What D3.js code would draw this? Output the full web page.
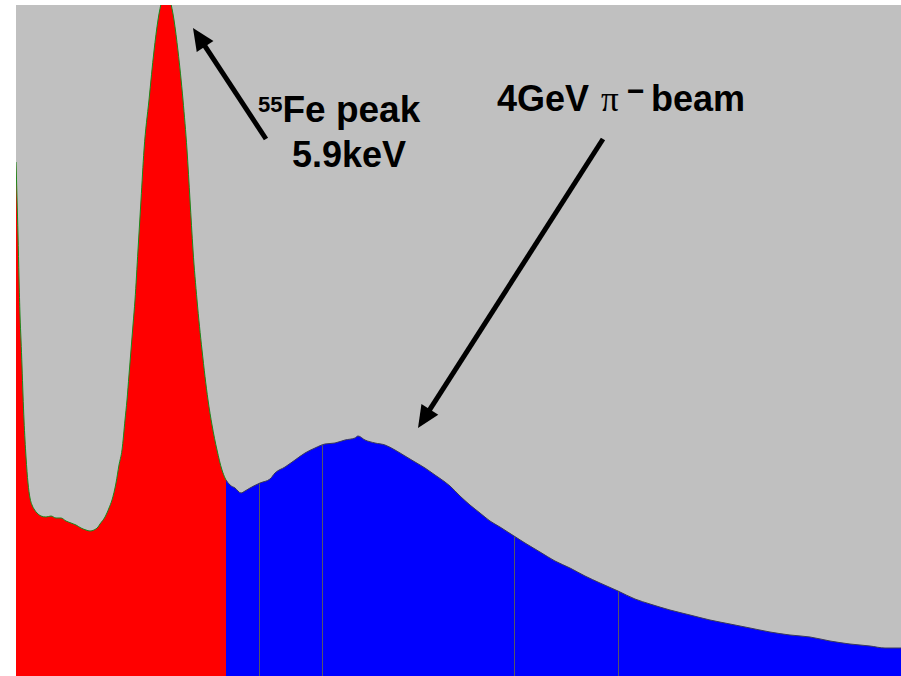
<!DOCTYPE html>
<html>
<head>
<style>
body { margin: 0; background: #fff; }
svg { display: block; }
</style>
</head>
<body>
<svg id="chart"></svg>
<script src="https://cdnjs.cloudflare.com/ajax/libs/d3/7.8.5/d3.min.js"></script>
<script>
// pulse height spectrum, channel vs counts
var channels = [0, 1, 2, 3, 4, 5, 6, 7, 8, 9, 10, 12, 14, 16, 18, 21, 25, 30, 35, 40, 45, 50, 55, 60, 65, 70, 74, 78, 82,
  84, 89, 93, 96, 100, 103, 106, 109, 111, 113, 115, 117, 119, 122, 125, 128, 133, 138, 142, 146, 150, 154,
  158, 162, 167, 171, 174, 177, 181, 186, 192, 196, 201, 206, 209, 210,
  214, 219, 225, 229, 234, 244, 254, 259, 269, 279, 289, 299, 309, 319, 329, 339, 342, 349, 359, 369, 379, 389, 399,
  409, 419, 429, 434, 444, 454, 464, 474, 484, 498, 509, 524, 539, 554, 569, 584, 602, 619, 634, 654, 674, 694, 714,
  734, 754, 774, 794, 814, 834, 854, 869, 885];
var counts = [5140, 4780, 4410, 3980, 3610, 3360, 3100, 2810, 2560, 2360, 2190, 1930, 1780, 1710, 1670, 1630, 1600, 1590, 1600, 1580, 1580, 1550, 1530, 1510, 1480, 1460, 1450, 1460, 1490,
  1520, 1590, 1680, 1760, 1930, 2110, 2260, 2560, 2760, 3010, 3260, 3510, 3760, 4260, 4760, 5260, 5760, 6250, 6560, 6760, 6850, 6760,
  6560, 6250, 5760, 5260, 4760, 4260, 3760, 3260, 2760, 2510, 2260, 2060, 1980, 1960,
  1910, 1880, 1830, 1850, 1880, 1930, 1970, 2030, 2090, 2160, 2230, 2280, 2320, 2330, 2360, 2380, 2400, 2360, 2330, 2310, 2260, 2200, 2140,
  2080, 2010, 1940, 1900, 1800, 1710, 1630, 1550, 1490, 1400, 1330, 1240, 1150, 1080, 1000, 930, 850, 770, 720, 660, 610, 560, 520,
  480, 440, 410, 390, 350, 320, 300, 280, 280];

var splitChannel = 210;                 // red (source) | blue (beam)
var dividerChannels = [243, 306, 498, 602];

var width = 901, height = 676;
var marginLeft = 16, marginTop = 5;

var data = channels.map(function(c, i) { return { ch: c, n: counts[i] }; });

var svg = d3.select('#chart').attr('width', width).attr('height', height);

var x = d3.scaleLinear().domain([0, 885]).range([marginLeft, width]);
var y = d3.scaleLinear().domain([0, 6710]).range([height, marginTop]);

svg.append('rect')
  .attr('x', marginLeft).attr('y', marginTop)
  .attr('width', width - marginLeft).attr('height', height - marginTop)
  .attr('fill', '#c0c0c0');

svg.append('clipPath').attr('id', 'plot')
  .append('rect')
  .attr('x', marginLeft).attr('y', marginTop)
  .attr('width', width - marginLeft).attr('height', height - marginTop);

var area = d3.area()
  .x(function(d) { return x(d.ch); })
  .y0(y(0))
  .y1(function(d) { return y(d.n); })
  .curve(d3.curveMonotoneX);

var line = d3.line()
  .x(function(d) { return x(d.ch); })
  .y(function(d) { return y(d.n); })
  .curve(d3.curveMonotoneX);

var redPart = data.filter(function(d) { return d.ch <= splitChannel; });
var bluePart = data.filter(function(d) { return d.ch >= splitChannel; });

var g = svg.append('g').attr('clip-path', 'url(#plot)');

g.append('path').datum(redPart).attr('d', area).attr('fill', '#ff0000');
g.append('path').datum(redPart).attr('d', line)
  .attr('fill', 'none').attr('stroke', '#1a8a1a').attr('stroke-width', 1);

svg.append('clipPath').attr('id', 'beam')
  .append('path').datum(bluePart).attr('d', area);

g.append('path').datum(bluePart).attr('d', area).attr('fill', '#0000ff');

g.append('g').attr('clip-path', 'url(#beam)')
  .selectAll('line').data(dividerChannels).enter().append('line')
  .attr('x1', function(d) { return Math.round(x(d)) + 0.5; })
  .attr('x2', function(d) { return Math.round(x(d)) + 0.5; })
  .attr('y1', marginTop).attr('y2', height)
  .attr('stroke', '#555566').attr('stroke-width', 1);

g.append('path').datum(bluePart).attr('d', line)
  .attr('fill', 'none').attr('stroke', '#3a3a5a').attr('stroke-width', 1);

// arrows
function arrow(x1, y1, x2, y2) {
  var dx = x2 - x1, dy = y2 - y1, len = Math.sqrt(dx * dx + dy * dy);
  var ux = dx / len, uy = dy / len, hl = 22, hw = 10;
  var bx = x2 - ux * hl, by = y2 - uy * hl;
  svg.append('line')
    .attr('x1', x1).attr('y1', y1).attr('x2', bx + ux * 2).attr('y2', by + uy * 2)
    .attr('stroke', '#000').attr('stroke-width', 5);
  svg.append('path')
    .attr('d', 'M' + x2 + ',' + y2 + 'L' + (bx - uy * hw) + ',' + (by + ux * hw) +
      'L' + (bx + uy * hw) + ',' + (by - ux * hw) + 'Z')
    .attr('fill', '#000');
}
arrow(266, 139, 193, 28);
arrow(603, 139, 418, 428);

var font = '"Liberation Sans", Arial, sans-serif';

var fe = svg.append('text')
  .attr('x', 258).attr('y', 122)
  .attr('font-family', font).attr('font-weight', 'bold').attr('fill', '#000');
fe.append('tspan').attr('font-size', 22).attr('dy', -10).text('55');
fe.append('tspan').attr('font-size', 37).attr('dy', 10).text('Fe peak');

svg.append('text')
  .attr('x', 292).attr('y', 167)
  .attr('font-family', font).attr('font-weight', 'bold').attr('font-size', 36)
  .text('5.9keV');

var beam = svg.append('text')
  .attr('x', 497).attr('y', 111)
  .attr('font-family', font).attr('font-weight', 'bold').attr('font-size', 36);
beam.append('tspan').text('4GeV');
beam.append('tspan').attr('x', 601)
  .attr('font-family', '"Liberation Serif", "Times New Roman", serif')
  .attr('font-weight', 'normal').attr('font-size', 35).text('π');
beam.append('tspan').attr('x', 627).attr('dy', -10).attr('font-size', 30).text('−');
beam.append('tspan').attr('x', 651).attr('dy', 10).text('beam');
</script>
</body>
</html>
